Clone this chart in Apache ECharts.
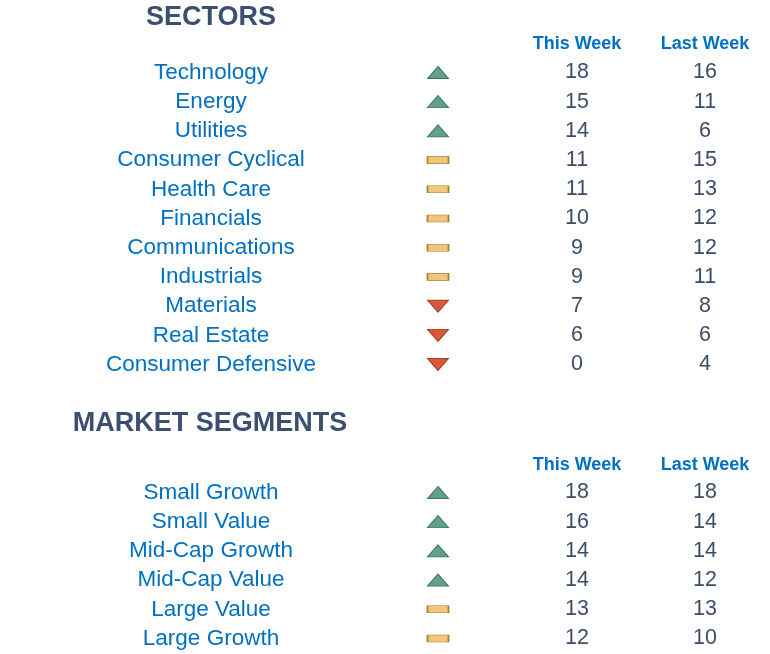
<!DOCTYPE html>
<html>
<head>
<meta charset="utf-8">
<script src="https://cdn.jsdelivr.net/npm/echarts@6/dist/echarts.min.js"></script>
<style>
  html, body { margin: 0; padding: 0; background: #fff; }
  #chart { width: 770px; height: 654px; }
</style>
</head>
<body>
<div id="chart"></div>
<script>
// sectors table
const sectorNames = ["Technology", "Energy", "Utilities", "Consumer Cyclical", "Health Care",
  "Financials", "Communications", "Industrials", "Materials", "Real Estate", "Consumer Defensive"];
const sectorTrend = ["up", "up", "up", "flat", "flat", "flat", "flat", "flat", "down", "down", "down"];
const sectorThisWeek = [18, 15, 14, 11, 11, 10, 9, 9, 7, 6, 0];
const sectorLastWeek = [16, 11, 6, 15, 13, 12, 12, 11, 8, 6, 4];

// market segments table
const segmentNames = ["Small Growth", "Small Value", "Mid-Cap Growth", "Mid-Cap Value", "Large Value", "Large Growth"];
const segmentTrend = ["up", "up", "up", "up", "flat", "flat"];
const segmentThisWeek = [18, 16, 14, 14, 13, 12];
const segmentLastWeek = [18, 14, 14, 12, 13, 10];

const columnHeaders = ["This Week", "Last Week"];

// column centres along the hidden x axis (0..770)
const colX = { name: 211, trend: 438, thisWeek: 577, lastWeek: 705 };
const font = "Liberation Sans, Arial, sans-serif";
const nameColor = "#0070c0";
const numColor = "#3a4d6b";
const titleColor = "#3b4f70";

const trendStyle = {
  up:   { symbol: "triangle", size: [21, 12], rotate: 0, color: "#62a089", border: "#3d7560" },
  flat: { symbol: "rect", size: [21, 7], rotate: 0, color: "#f1c67c", border: "#a5802a" },
  down: { symbol: "triangle", size: [21, 12], rotate: 180, color: "#d9593a", border: "#a73a21" }
};

const chart = echarts.init(document.getElementById("chart"));

function textSeries(gridIdx, x, values, color, size) {
  return {
    type: "scatter",
    xAxisIndex: gridIdx,
    yAxisIndex: gridIdx,
    symbolSize: 1,
    itemStyle: { color: "rgba(0,0,0,0)", opacity: 1 },
    silent: true,
    data: values.map((v, i) => ({ value: [x, i], txt: String(v) })),
    label: {
      show: true,
      position: "inside",
      formatter: (p) => p.data.txt,
      color: color,
      opacity: 1,
      fontSize: size,
      fontFamily: font
    }
  };
}

function trendSeries(gridIdx, trends) {
  return {
    type: "scatter",
    xAxisIndex: gridIdx,
    yAxisIndex: gridIdx,
    silent: true,
    data: trends.map((t, i) => {
      const s = trendStyle[t];
      return {
        value: [colX.trend, i],
        symbol: s.symbol,
        symbolSize: s.size,
        symbolRotate: s.rotate,
        itemStyle: { color: s.color, borderColor: s.border, borderWidth: 1, opacity: 1 }
      };
    })
  };
}

function headerTitles(y) {
  return columnHeaders.map((h, i) => ({
    text: h, left: i === 0 ? colX.thisWeek : colX.lastWeek, top: y, textAlign: "center", padding: 0,
    textStyle: { color: nameColor, fontSize: 18, fontWeight: "bold", fontFamily: font }
  }));
}

const rowH = 29.2;
const grid1Top = 72.5 - rowH / 2;
const grid2Top = 492.5 - rowH / 2;

const hiddenX = (gi) => ({ type: "value", gridIndex: gi, min: 0, max: 770, show: false });
const hiddenY = (gi, n) => ({
  type: "category", gridIndex: gi, inverse: true, show: false,
  data: Array.from({ length: n }, (_, i) => i)
});

chart.setOption({
  animation: false,
  title: [
    { text: "SECTORS", left: 211, top: 4, textAlign: "center", padding: 0,
      textStyle: { color: titleColor, fontSize: 27, fontWeight: "bold", fontFamily: font } },
    { text: "MARKET SEGMENTS", left: 210, top: 410, textAlign: "center", padding: 0,
      textStyle: { color: titleColor, fontSize: 27, fontWeight: "bold", fontFamily: font } },
    ...headerTitles(35),
    ...headerTitles(456)
  ],
  grid: [
    { left: 0, right: 0, top: grid1Top, height: rowH * sectorNames.length },
    { left: 0, right: 0, top: grid2Top, height: rowH * segmentNames.length }
  ],
  xAxis: [hiddenX(0), hiddenX(1)],
  yAxis: [hiddenY(0, sectorNames.length), hiddenY(1, segmentNames.length)],
  series: [
    textSeries(0, colX.name, sectorNames, nameColor, 22.5),
    trendSeries(0, sectorTrend),
    textSeries(0, colX.thisWeek, sectorThisWeek, numColor, 21.5),
    textSeries(0, colX.lastWeek, sectorLastWeek, numColor, 21.5),
    textSeries(1, colX.name, segmentNames, nameColor, 22.5),
    trendSeries(1, segmentTrend),
    textSeries(1, colX.thisWeek, segmentThisWeek, numColor, 21.5),
    textSeries(1, colX.lastWeek, segmentLastWeek, numColor, 21.5)
  ]
});
</script>
</body>
</html>
